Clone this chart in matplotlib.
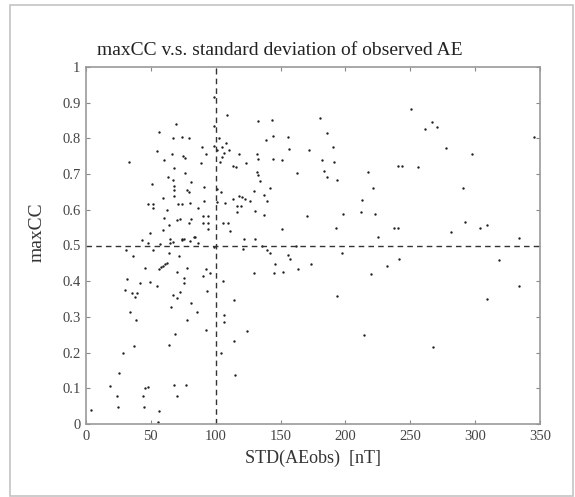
import numpy as np
import matplotlib
matplotlib.use('Agg')
import matplotlib.pyplot as plt
from matplotlib.patches import Rectangle

# STD(AEobs) [nT] vs maxCC
std_ae = [
    33.4, 98.7, 98.4, 108.5, 56.5, 69.4, 67.3, 73.8, 79.4, 55.0, 60.4, 66.0, 75.0, 76.4, 76.4, 67.9,
    89.2, 92.2, 88.7, 98.7, 100.8, 102.6, 104.9, 106.5, 107.8, 110.6, 103.4, 104.6, 50.6, 59.1, 63.5,
    67.3, 68.1, 67.9, 67.9, 78.1, 79.4, 80.6, 80.2, 71.2, 74.3, 91.2, 91.0, 47.5, 51.3, 51.9, 62.2,
    86.1, 100.8, 100.8, 103.9, 107.0, 60.1, 64.3, 69.9, 72.5, 79.4, 80.6, 83.5, 90.5, 94.3, 90.5, 93.8,
    94.3, 59.1, 49.3, 106.0, 109.1, 64.8, 73.8, 75.6,
    3.6, 18.5, 23.6, 24.9, 25.7, 28.3, 29.8, 30.8, 31.9, 33.9, 35.2, 36.5, 37.0, 37.8, 38.5, 39.6,
    41.6, 42.9, 44.2, 45.0, 45.2, 45.8, 47.5, 49.3, 51.9, 55.0, 55.8, 56.5, 56.5, 57.5, 59.1, 60.9,
    62.7, 63.8, 63.8, 65.3, 66.9, 67.9, 68.9, 69.9, 69.9, 70.4, 72.0, 72.5, 75.6, 75.6, 78.1, 77.6,
    77.1, 80.6, 85.7, 90.5, 92.6, 92.6, 93.6, 95.7, 104.0, 105.5, 106.1, 106.1, 84.1, 98.7, 47.5,
    64.8, 67.3, 74.3, 86.7, 57.0, 80.0,
    132.9, 143.7, 180.4, 185.5, 144.4, 138.8, 155.9, 156.7, 172.2, 190.7, 131.6, 132.9, 118.2, 144.0,
    151.4, 181.7, 191.2, 113.6, 115.4, 123.1, 131.6, 132.9, 134.2, 162.9, 183.5, 186.1, 193.3, 217.7,
    221.0, 141.9, 129.6, 137.3, 139.4, 117.9, 120.5, 122.6, 126.4, 113.0, 116.2, 119.8, 116.2, 130.3,
    137.3, 170.6, 198.4, 213.1, 212.0, 222.8, 111.0, 150.9, 192.4, 224.9, 121.8, 130.0,
    121.3, 135.5, 139.3, 141.9, 156.0, 157.3, 145.7, 173.2, 163.7, 129.6, 145.2, 151.6, 114.1, 123.9,
    114.4, 114.9, 197.6, 193.8, 219.5, 214.3, 162.0,
    250.3, 266.5, 261.4, 270.3, 345.0, 277.6, 297.9, 240.3, 243.4, 255.7, 290.9, 292.2, 237.5, 240.8,
    281.4, 303.8, 309.0, 334.0,
    231.8, 241.1, 318.7, 334.0, 309.4, 267.8,
]
max_cc = [
    0.733, 0.917, 0.835, 0.866, 0.817, 0.839, 0.800, 0.805, 0.802, 0.766, 0.739, 0.755, 0.752, 0.746, 0.702, 0.716,
    0.777, 0.756, 0.730, 0.778, 0.768, 0.802, 0.777, 0.758, 0.788, 0.768, 0.735, 0.749, 0.672, 0.634, 0.693,
    0.683, 0.666, 0.655, 0.638, 0.655, 0.650, 0.678, 0.618, 0.616, 0.615, 0.665, 0.625, 0.615, 0.616, 0.604, 0.600,
    0.605, 0.657, 0.623, 0.651, 0.618, 0.576, 0.557, 0.571, 0.574, 0.562, 0.573, 0.525, 0.583, 0.583, 0.562, 0.562,
    0.545, 0.544, 0.534, 0.564, 0.562, 0.517, 0.517, 0.517,
    0.038, 0.106, 0.078, 0.049, 0.144, 0.198, 0.374, 0.487, 0.406, 0.315, 0.366, 0.471, 0.219, 0.357, 0.291, 0.367,
    0.396, 0.515, 0.078, 0.048, 0.436, 0.100, 0.104, 0.398, 0.486, 0.387, 0.006, 0.036, 0.433, 0.440, 0.442, 0.449,
    0.452, 0.479, 0.221, 0.327, 0.360, 0.108, 0.252, 0.352, 0.078, 0.427, 0.471, 0.369, 0.408, 0.396, 0.436, 0.291,
    0.108, 0.339, 0.315, 0.415, 0.433, 0.263, 0.373, 0.424, 0.198, 0.401, 0.306, 0.285, 0.525, 0.497, 0.506,
    0.506, 0.511, 0.515, 0.508, 0.503, 0.512,
    0.850, 0.852, 0.856, 0.816, 0.807, 0.795, 0.805, 0.771, 0.768, 0.775, 0.755, 0.741, 0.755, 0.741,
    0.740, 0.740, 0.735, 0.723, 0.721, 0.730, 0.707, 0.697, 0.682, 0.702, 0.710, 0.693, 0.684, 0.707,
    0.660, 0.660, 0.654, 0.641, 0.626, 0.638, 0.635, 0.631, 0.626, 0.631, 0.611, 0.611, 0.595, 0.597,
    0.585, 0.584, 0.588, 0.627, 0.595, 0.588, 0.540, 0.545, 0.548, 0.525, 0.518, 0.518,
    0.489, 0.499, 0.486, 0.480, 0.473, 0.461, 0.447, 0.447, 0.434, 0.424, 0.424, 0.426, 0.347, 0.261,
    0.233, 0.137, 0.478, 0.359, 0.419, 0.249, 0.500,
    0.881, 0.847, 0.826, 0.833, 0.805, 0.772, 0.755, 0.723, 0.723, 0.721, 0.660, 0.567, 0.550, 0.550,
    0.537, 0.550, 0.557, 0.520,
    0.443, 0.461, 0.458, 0.387, 0.350, 0.217,
]

x_ticks = [0, 50, 100, 150, 200, 250, 300, 350]
y_ticks = [0, 0.1, 0.2, 0.3, 0.4, 0.5, 0.6, 0.7, 0.8, 0.9, 1]
y_labels = ['0', '0.1', '0.2', '0.3', '0.4', '0.5', '0.6', '0.7', '0.8', '0.9', '1']

plt.rcParams['font.family'] = ['Liberation Serif', 'DejaVu Serif']

fig = plt.figure(figsize=(5.75, 4.97), dpi=100)
fig.patches.append(Rectangle((10/575, 1-496/497), 563/575, 491/497, transform=fig.transFigure,
                             fill=False, edgecolor='#c4c4c4', linewidth=1.2))
ax = fig.add_axes([86/575, 1-424/497, 454/575, 357/497])

ax.scatter(std_ae, max_cc, s=3, c='#222222', linewidths=0)
ax.axhline(0.5, color='#333333', linestyle=(0, (4, 3)), linewidth=1)
ax.axvline(100, color='#333333', linestyle=(0, (4, 3)), linewidth=1)

ax.set_xlim(0, 350)
ax.set_ylim(0, 1)
ax.set_xticks(x_ticks)
ax.set_yticks(y_ticks)
ax.set_yticklabels(y_labels)
ax.tick_params(direction='in', top=True, right=True, length=3, width=0.8,
               colors='#888888', labelcolor='#444444', labelsize=10.5, pad=4)
for s in ax.spines.values():
    s.set_color('#999999')
    s.set_linewidth(1.2)

# title sits a bit left of the axes centre in the original
fig.text(280/575, 1-55/497, 'maxCC v.s. standard deviation of observed AE', fontsize=14,
         color='#222222', ha='center', va='baseline')
ax.set_xlabel('STD(AEobs)  [nT]', fontsize=13, color='#333333', labelpad=5)
fig.text(37/575, 1-232/497, 'maxCC', fontsize=14, color='#333333', rotation=90,
         ha='center', va='center')

fig.savefig('out.png', dpi=100)
